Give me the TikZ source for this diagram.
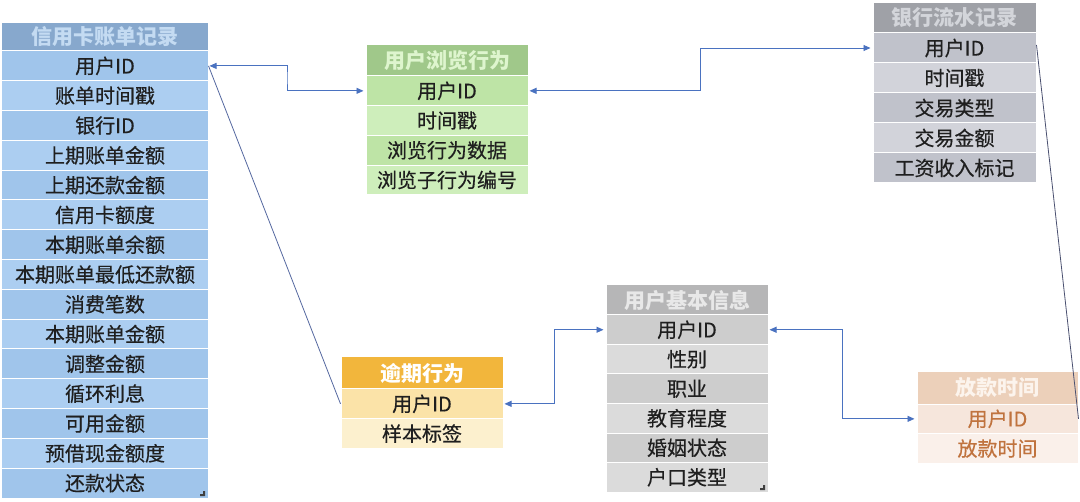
\documentclass[tikz,border=0pt]{standalone}
\usepackage{fontspec}
\setmainfont{Noto Sans CJK SC}
\newfontfamily\rowfont{Noto Sans CJK SC}[FakeBold=0.4]
\usetikzlibrary{arrows.meta,calc}
\definecolor{connc}{HTML}{4A72C0}
\definecolor{diagc}{HTML}{5568A0}
\definecolor{diagd}{HTML}{4A5070}
\newcommand{\mytable}[9]{%
  \node[hdrbase,#7hdr,minimum width=#4 bp,minimum height=#5 bp] (#1h) at (#2+#4/2,#3+#5/2) {#8};
  \foreach \t [count=\i] in {#9}{%
    \ifodd\i\relax\def\rs{#7odd}\else\def\rs{#7even}\fi
    \node[rowbase,\rs,minimum width=#4 bp,minimum height=#6 bp] (#1r\i) at (#2+#4/2,#3+#5+#6*\i-#6/2) {\t};
  }%
}
\begin{document}
\begin{tikzpicture}[x=1bp,y=-1bp,
  hdrbase/.style={draw=white,line width=1bp,inner sep=0pt,font=\fontsize{21bp}{24bp}\selectfont\bfseries},
  rowbase/.style={draw=white,line width=1bp,inner sep=0pt,font=\rowfont\fontsize{20bp}{23bp}\selectfont,text=black!88},
  bhdr/.style={fill={rgb,255:red,135;green,168;blue,205},text={rgb,255:red,196;green,219;blue,242}},
  bodd/.style={fill={rgb,255:red,160;green,197;blue,235}},
  beven/.style={fill={rgb,255:red,172;green,206;blue,241}},
  ghdr/.style={fill={rgb,255:red,160;green,200;blue,138},text={rgb,255:red,222;green,245;blue,206}},
  godd/.style={fill={rgb,255:red,190;green,228;blue,166}},
  geven/.style={fill={rgb,255:red,206;green,238;blue,187}},
  shdr/.style={fill={rgb,255:red,159;green,161;blue,167},text={rgb,255:red,211;green,213;blue,218}},
  sodd/.style={fill={rgb,255:red,192;green,194;blue,203}},
  seven/.style={fill={rgb,255:red,210;green,211;blue,218}},
  khdr/.style={fill={rgb,255:red,182;green,182;blue,183},text={rgb,255:red,232;green,232;blue,232}},
  kodd/.style={fill={rgb,255:red,205;green,205;blue,205}},
  keven/.style={fill={rgb,255:red,219;green,219;blue,219}},
  ohdr/.style={fill={rgb,255:red,242;green,182;blue,60},text=white},
  oodd/.style={fill={rgb,255:red,251;green,227;blue,168}},
  oeven/.style={fill={rgb,255:red,252;green,240;blue,206}},
  phdr/.style={fill={rgb,255:red,236;green,208;blue,186},text={rgb,255:red,252;green,244;blue,237}},
  podd/.style={fill={rgb,255:red,246;green,230;blue,220},text={rgb,255:red,192;green,115;blue,62}},
  peven/.style={fill={rgb,255:red,250;green,240;blue,234},text={rgb,255:red,192;green,115;blue,62}},
  conn/.style={draw=connc,line width=0.9bp,{Triangle[length=7bp,width=6bp]}-{Triangle[length=7bp,width=6bp]},shorten <=1bp,shorten >=2bp},
  diag/.style={draw=diagc,line width=0.8bp},
  diag2/.style={draw=diagd,line width=0.8bp},
  handle/.style={fill=black!75}]
\fill[white] (0,0) rectangle (1080,502);
\useasboundingbox (0,0) rectangle (1080,502);
\mytable{a}{2}{23}{206}{28}{29.8}{b}{信用卡账单记录}{用户ID,账单时间戳,银行ID,上期账单金额,上期还款金额,信用卡额度,本期账单余额,本期账单最低还款额,消费笔数,本期账单金额,调整金额,循环利息,可用金额,预借现金额度,还款状态}
\mytable{b}{366}{45}{162}{31}{29.7}{g}{用户浏览行为}{用户ID,时间戳,浏览行为数据,浏览子行为编号}
\mytable{c}{873}{3}{163}{30}{30}{s}{银行流水记录}{用户ID,时间戳,交易类型,交易金额,工资收入标记}
\mytable{d}{606}{285}{162}{30}{29.5}{k}{用户基本信息}{用户ID,性别,职业,教育程度,婚姻状态,户口类型}
\mytable{e}{341}{357}{162}{32}{29.7}{o}{逾期行为}{用户ID,样本标签}
\mytable{f}{917}{372}{161}{32}{29.7}{p}{放款时间}{用户ID,放款时间}
% corner handles
\fill[handle] (200,496) -- (205,496) -- (205,491) -- (203,491) -- (203,494) -- (200,494) -- cycle;
\fill[handle] (760,490) -- (765,490) -- (765,485) -- (763,485) -- (763,488) -- (760,488) -- cycle;
% connectors
\draw[conn] (ar1.east) -| ($(ar1.east)!.5!(br1.west)$) |- (br1.west);
\draw[conn] (br1.east) -| ($(br1.east)!.5!(cr1.west)$) |- (cr1.west);
\draw[conn] (er1.east) -| ($(er1.east)!.5!(dr1.west)$) |- (dr1.west);
\draw[conn] (dr1.east) -| ($(dr1.east)!.5!(fr1.west)$) |- (fr1.west);
\draw[diag] (ar1.east) -- (er1.west);
\draw[diag2] ([yshift=3bp]cr1.east) -- (fr1.east);
\end{tikzpicture}
\end{document}
